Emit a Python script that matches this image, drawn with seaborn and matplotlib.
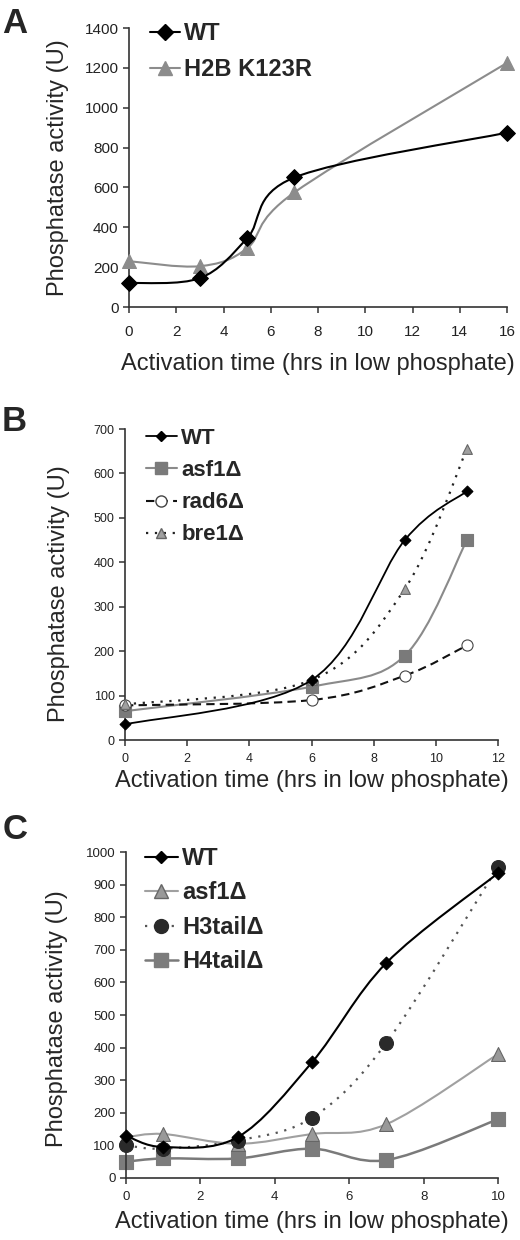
import numpy as np
import matplotlib
matplotlib.use('Agg')
import matplotlib.pyplot as plt
from matplotlib.path import Path
from matplotlib.patches import PathPatch
from matplotlib.lines import Line2D
import seaborn as sns

# panel A
a_hours = [0, 3, 5, 7, 16]
a_wt = [120, 145, 345, 650, 875]
a_h2b = [230, 205, 295, 575, 1225]

# panel B
b_hours = [0, 6, 9, 11]
b_wt = [35, 135, 450, 560]
b_asf1 = [65, 120, 190, 450]
b_rad6 = [78, 90, 145, 213]
b_bre1 = [80, 135, 340, 655]

# panel C
c_hours = [0, 1, 3, 5, 7, 10]
c_wt = [130, 95, 125, 355, 660, 935]
c_asf1 = [125, 135, 105, 135, 165, 380]
c_h3tail = [100, 90, 115, 185, 415, 955]
c_h4tail = [50, 60, 60, 90, 55, 180]

sns.set_style('ticks')
plt.rcParams['font.family'] = ['Liberation Sans', 'DejaVu Sans']


def smooth_path(x, y):
    # excel-style smoothed line: bezier segments through the data points
    pts = np.column_stack([x, y]).astype(float)
    n = len(pts)
    verts = [pts[0]]
    codes = [Path.MOVETO]
    for i in range(n - 1):
        p0 = pts[max(i - 1, 0)]
        p1 = pts[i]
        p2 = pts[i + 1]
        p3 = pts[min(i + 2, n - 1)]
        verts += [p1 + (p2 - p0) / 6, p2 - (p3 - p1) / 6, p2]
        codes += [Path.CURVE4] * 3
    return Path(verts, codes)


def draw(ax, x, y, color, ls, lw, marker, ms, mfc, mec, z):
    ax.add_patch(PathPatch(smooth_path(x, y), fill=False, edgecolor=color,
                           linestyle=ls, linewidth=lw, zorder=z))
    sns.scatterplot(x=x, y=y, ax=ax, marker=marker, s=ms ** 2, color=mfc,
                    edgecolor=mec, linewidth=0.8, zorder=z + 0.5,
                    clip_on=False, legend=False)
    return Line2D([], [], color=color, ls=ls, lw=lw, marker=marker,
                  markersize=ms, markerfacecolor=mfc, markeredgecolor=mec)


def style_axes(ax, xmax, xstep, ymax, ystep, tick_fs, xpad, xlab_y, ylab_x, ylab_y):
    ax.set_xlim(0, xmax)
    ax.set_ylim(0, ymax)
    ax.set_xticks(np.arange(0, xmax + 0.1, xstep))
    ax.set_yticks(np.arange(0, ymax + 1, ystep))
    sns.despine(ax=ax)
    for s in ['left', 'bottom']:
        ax.spines[s].set_color('#333333')
        ax.spines[s].set_linewidth(1.2)
    ax.tick_params(axis='both', direction='out', length=4, width=1.1,
                   color='#333333', labelsize=tick_fs, labelcolor='#222222')
    ax.tick_params(axis='x', pad=xpad)
    ax.set_xlabel('Activation time (hrs in low phosphate)', fontsize=17)
    ax.set_ylabel('Phosphatase activity (U)', fontsize=17)
    ax.xaxis.set_label_coords(0.5, xlab_y)
    ax.yaxis.set_label_coords(ylab_x, ylab_y)


fig = plt.figure(figsize=(5.2, 12.4), dpi=100)
axA = fig.add_axes([0.2481, 0.7524, 0.7269, 0.2250])
axB = fig.add_axes([0.2404, 0.4032, 0.7173, 0.2508])
axC = fig.add_axes([0.2423, 0.0500, 0.7154, 0.2629])

# ---- A ----
hA = [
    draw(axA, a_hours, a_wt, 'black', '-', 1.5, 'D', 8, 'black', 'black', 4),
    draw(axA, a_hours, a_h2b, '#8c8c8c', '-', 1.5, '^', 10, '#8c8c8c', '#8c8c8c', 3),
]
style_axes(axA, 16, 2, 1400, 200, 11, 9, -0.165, -0.16, 0.5)
axA.legend(hA, ['WT', 'H2B K123R'], loc='upper left', bbox_to_anchor=(0.055, 1.02),
           frameon=False, prop={'weight': 'bold', 'size': 17}, handlelength=1.3,
           handletextpad=0.15, labelspacing=0.55, borderpad=0, borderaxespad=0)

# ---- B ----
hB = [
    draw(axB, b_hours, b_wt, 'black', '-', 1.3, 'D', 5.5, 'black', 'black', 5),
    draw(axB, b_hours, b_asf1, '#8a8a8a', '-', 1.5, 's', 8, '#7a7a7a', '#7a7a7a', 3),
    draw(axB, b_hours, b_rad6, '#111111', (0, (4, 2.5)), 1.5, 'o', 8, 'white', '#444444', 4),
    draw(axB, b_hours, b_bre1, '#222222', (0, (1, 3)), 1.6, '^', 7, '#a0a0a0', '#666666', 4),
]
style_axes(axB, 12, 2, 700, 100, 9, 5, -0.095, -0.147, 0.47)
axB.legend(hB, ['WT', 'asf1Δ', 'rad6Δ', 'bre1Δ'], loc='upper left',
           bbox_to_anchor=(0.055, 1.003), frameon=False,
           prop={'weight': 'bold', 'size': 16}, handlelength=1.4,
           handletextpad=0.2, labelspacing=0.5, borderpad=0, borderaxespad=0)

# ---- C ----
hC = [
    draw(axC, c_hours, c_wt, 'black', '-', 1.5, 'D', 6.5, 'black', 'black', 5),
    draw(axC, c_hours, c_asf1, '#a0a0a0', '-', 1.5, '^', 10, '#999999', '#666666', 3),
    draw(axC, c_hours, c_h3tail, '#555555', (0, (1, 3)), 1.6, 'o', 10, '#2a2a2a', '#2a2a2a', 4),
    draw(axC, c_hours, c_h4tail, '#7a7a7a', '-', 1.8, 's', 10, '#7c7c7c', '#7c7c7c', 2),
]
style_axes(axC, 10, 2, 1000, 100, 9.5, 5, -0.1, -0.156, 0.49)
axC.legend(hC, ['WT', 'asf1Δ', 'H3tailΔ', 'H4tailΔ'], loc='upper left',
           bbox_to_anchor=(0.05, 1.015), frameon=False,
           prop={'weight': 'bold', 'size': 17}, handlelength=1.4,
           handletextpad=0.2, labelspacing=0.48, borderpad=0, borderaxespad=0)

# panel letters
fig.text(0.005, 0.994, 'A', fontsize=25, fontweight='bold', va='top', ha='left')
fig.text(0.003, 0.673, 'B', fontsize=25, fontweight='bold', va='top', ha='left')
fig.text(0.005, 0.344, 'C', fontsize=25, fontweight='bold', va='top', ha='left')

fig.savefig('out.png', dpi=100)
